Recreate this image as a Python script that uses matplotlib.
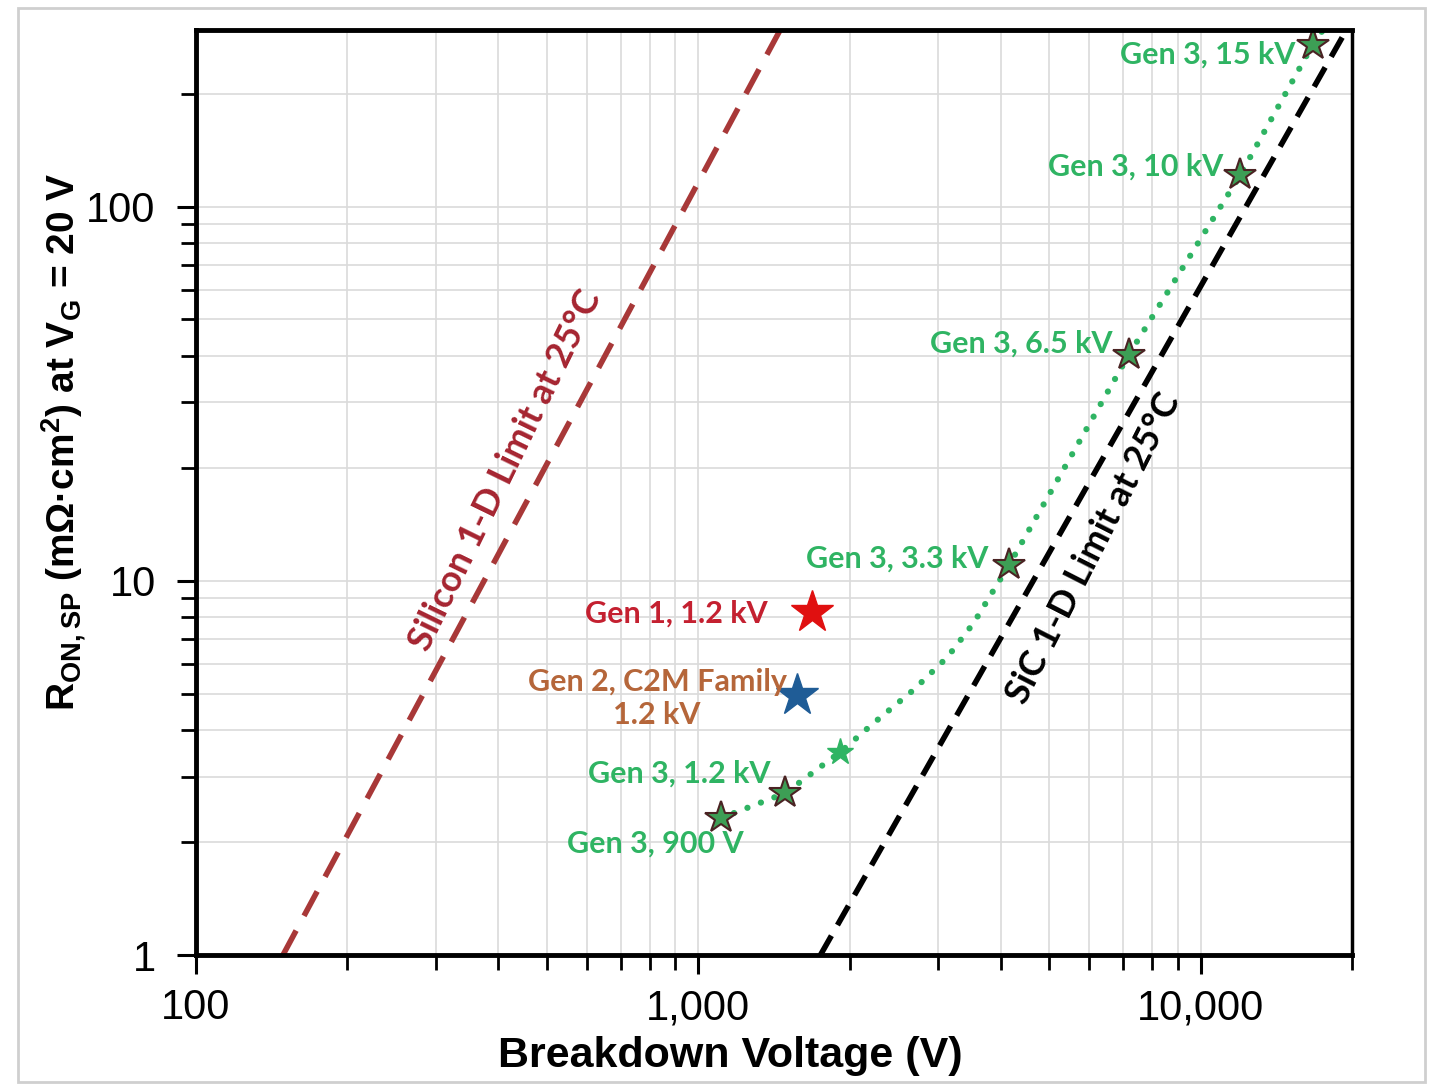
import matplotlib
matplotlib.use("Agg")
import matplotlib.pyplot as plt
from matplotlib.patches import Rectangle
from matplotlib.ticker import FixedLocator, LogLocator, NullFormatter

# limit lines (end points)
si_limit_v = [149, 1455]
si_limit_r = [1.0, 297]
sic_limit_v = [1750, 19500]
sic_limit_r = [1.0, 297]

# Gen 3 trend curve (dotted)
gen3_curve_v = [1107, 1490, 1918, 2234, 2680, 3133, 3532, 3873, 4150, 7190, 12000, 16700, 17600]
gen3_curve_r = [2.32, 2.71, 3.49, 4.17, 5.11, 6.26, 7.72, 9.46, 11.0, 40.2, 122, 271, 300]

# Gen 3 devices
gen3_v = [1107, 1490, 4150, 7190, 12000, 16700]
gen3_r = [2.32, 2.71, 11.0, 40.2, 122, 271]
gen3_extra_v = [1918]
gen3_extra_r = [3.49]

gen1_v, gen1_r = [1687], [8.26]
gen2_v, gen2_r = [1574], [4.96]

gen3_labels = ["Gen 3, 900 V", "Gen 3, 1.2 kV", "Gen 3, 3.3 kV",
               "Gen 3, 6.5 kV", "Gen 3, 10 kV", "Gen 3, 15 kV"]
gen3_label_x = [821, 1390, 3786, 6680, 11070, 15460]
gen3_label_y = [1.99, 3.05, 11.5, 43, 128, 255]
gen3_label_ha = ["center", "right", "right", "right", "right", "right"]

x_ticks = [100, 1000, 10000]
x_tick_labels = ["100", "1,000", "10,000"]
y_ticks = [1, 10, 100]
y_tick_labels = ["1", "10", "100"]

GREEN = "#2fb463"
LABEL_FONT = "Lato"
LABEL_SIZE = 22

fig = plt.figure(figsize=(14.43, 10.86), dpi=100)
fig.patches.append(Rectangle((18 / 1443, 1 - 1082 / 1086), 1407 / 1443, 1074 / 1086,
                             transform=fig.transFigure, fill=False,
                             edgecolor="#cfcfcf", lw=2))
ax = fig.add_axes([0.1358, 0.1206, 0.8011, 0.8518])

ax.set_xscale("log")
ax.set_yscale("log")
ax.set_xlim(100, 20000)
ax.set_ylim(1, 297)

ax.grid(True, which="both", color="#dadada", lw=1.2)
ax.set_axisbelow(True)

ax.plot(si_limit_v, si_limit_r, color="#a83838", lw=4, dashes=(5, 3))
ax.plot(sic_limit_v, sic_limit_r, color="black", lw=4, dashes=(4, 2.2))
ax.plot(gen3_curve_v, gen3_curve_r, color=GREEN, lw=4.5,
        linestyle=(0, (0.01, 2.3)), dash_capstyle="round")

ax.plot(gen3_v, gen3_r, ls="none", marker="*", ms=24, color="#3d9e55",
        mec="#4a2323", mew=1.5)
ax.plot(gen3_extra_v, gen3_extra_r, ls="none", marker="*", ms=20, color=GREEN,
        mec=GREEN)
ax.plot(gen1_v, gen1_r, ls="none", marker="*", ms=32, color="#e01010")
ax.plot(gen2_v, gen2_r, ls="none", marker="*", ms=32, color="#1f5c96")

for lbl, lx, ly, ha in zip(gen3_labels, gen3_label_x, gen3_label_y, gen3_label_ha):
    ax.text(lx, ly, lbl, color=GREEN, fontsize=LABEL_SIZE, fontweight="bold",
            family=LABEL_FONT, ha=ha, va="center")
ax.text(1371, 8.2, "Gen 1, 1.2 kV", color="#c42030", fontsize=LABEL_SIZE,
        fontweight="bold", family=LABEL_FONT, ha="right", va="center")
ax.text(828, 4.85, "Gen 2, C2M Family\n1.2 kV", color="#b5663a", fontsize=LABEL_SIZE,
        fontweight="bold", family=LABEL_FONT, ha="center", va="center",
        multialignment="center", linespacing=1.25)
ax.text(413, 19.8, "Silicon 1-D Limit at 25°C", color="#a52430", fontsize=26,
        fontweight="bold", family=LABEL_FONT, ha="center", va="center",
        rotation=64, rotation_mode="anchor")
ax.text(6124, 12.25, "SiC 1-D Limit at 25°C", color="black", fontsize=26,
        fontweight="bold", family=LABEL_FONT, ha="center", va="center",
        rotation=63, rotation_mode="anchor")

ax.xaxis.set_major_locator(FixedLocator(x_ticks))
ax.set_xticklabels(x_tick_labels)
ax.yaxis.set_major_locator(FixedLocator(y_ticks))
ax.set_yticklabels(y_tick_labels)
ax.xaxis.set_minor_locator(LogLocator(base=10, subs=range(2, 10)))
ax.yaxis.set_minor_locator(LogLocator(base=10, subs=range(2, 10)))
ax.xaxis.set_minor_formatter(NullFormatter())
ax.yaxis.set_minor_formatter(NullFormatter())

ax.tick_params(which="major", length=14, width=2.2, labelsize=30, pad=10,
               colors="black")
ax.tick_params(axis="y", which="major", pad=15)
ax.tick_params(which="minor", length=11, width=2, colors="black")
ax.tick_params(axis="x", which="both", top=False)
ax.tick_params(axis="y", which="both", right=False)
for lbl in ax.get_xticklabels() + ax.get_yticklabels():
    lbl.set_family("Liberation Sans")

for side in ["left", "bottom", "top"]:
    ax.spines[side].set_linewidth(3.5)
ax.spines["right"].set_linewidth(2.5)

ax.set_xlabel("Breakdown Voltage (V)", fontsize=31, fontweight="bold",
              family="Liberation Sans")
ax.xaxis.set_label_coords(0.462, -0.088)
ax.set_ylabel(r"R$_\mathregular{ON,SP}$ (mΩ·cm$^\mathregular{2}$) at V$_\mathregular{G}$ = 20 V",
              fontsize=28, fontweight="bold", family="Liberation Sans")
ax.yaxis.set_label_coords(-0.093, 0.555)

fig.savefig("out.png", dpi=100)
